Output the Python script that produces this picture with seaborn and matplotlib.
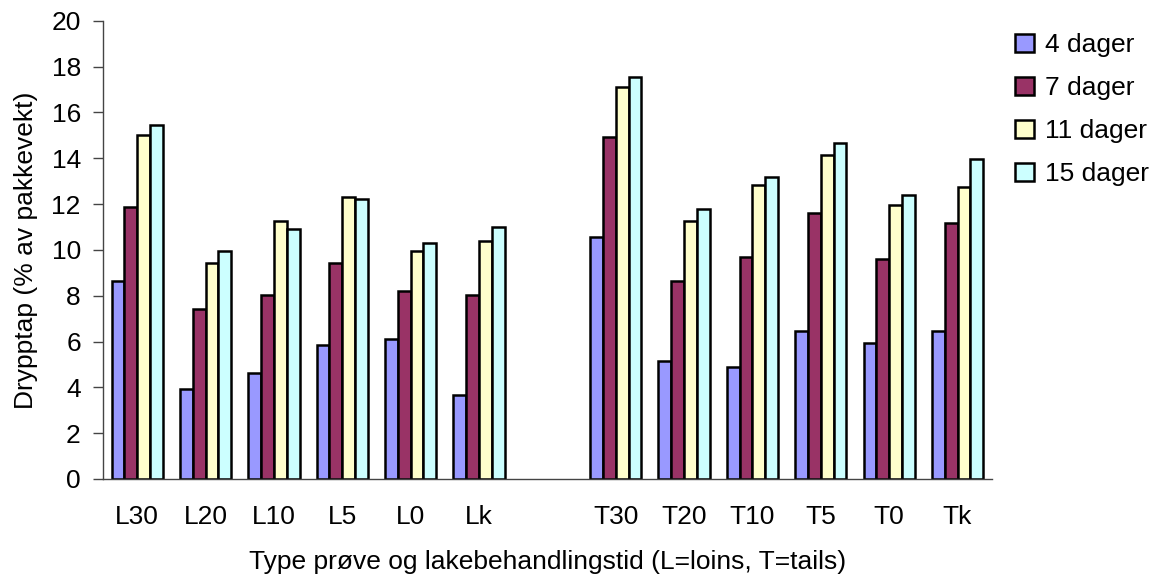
import numpy as np
import pandas as pd
import matplotlib
matplotlib.use("Agg")
import matplotlib.pyplot as plt
import seaborn as sns

# data
categories = ["L30", "L20", "L10", "L5", "L0", "Lk", " ", "T30", "T20", "T10", "T5", "T0", "Tk"]
series = ["4 dager", "7 dager", "11 dager", "15 dager"]
dag4 = [8.63, 3.93, 4.63, 5.85, 6.11, 3.67, np.nan, 10.57, 5.15, 4.89, 6.46, 5.94, 6.46]
dag7 = [11.86, 7.42, 8.03, 9.42, 8.21, 8.03, np.nan, 14.93, 8.63, 9.69, 11.62, 9.61, 11.18]
dag11 = [15.02, 9.42, 11.27, 12.30, 9.96, 10.39, np.nan, 17.10, 11.27, 12.84, 14.13, 11.97, 12.75]
dag15 = [15.46, 9.96, 10.92, 12.23, 10.29, 10.99, np.nan, 17.54, 11.79, 13.19, 14.66, 12.40, 13.97]
colors = ["#9999FF", "#993366", "#FFFFCC", "#CCFFFF"]

df = pd.DataFrame({"Type": categories, series[0]: dag4, series[1]: dag7,
                   series[2]: dag11, series[3]: dag15})
long = df.melt(id_vars="Type", var_name="Tid", value_name="Drypptap").dropna()

sns.set_style("white")
plt.rcParams["font.family"] = ["Liberation Sans", "DejaVu Sans"]
plt.rcParams["text.color"] = "black"
plt.rcParams["axes.labelcolor"] = "black"
plt.rcParams["xtick.color"] = "black"
plt.rcParams["ytick.color"] = "black"

fig = plt.figure(figsize=(11.64, 5.82), dpi=100)
ax = fig.add_axes([0.0885, 0.177, 0.7635, 0.7874])

sns.barplot(data=long, x="Type", y="Drypptap", hue="Tid", order=categories,
            hue_order=series, palette=colors, width=0.75, gap=0,
            edgecolor="black", linewidth=1.8, saturation=1, ax=ax)

ax.set_xlim(-0.5, len(categories) - 0.5)
ax.set_ylim(0, 20)
ax.set_yticks(range(0, 21, 2))
ax.set_xticks(range(len(categories)))
ax.set_xticklabels(categories)
ax.set_xticks(np.arange(-0.5, len(categories), 1), minor=True)
ax.tick_params(axis="x", which="major", length=0, pad=19, labelsize=19)
ax.tick_params(axis="x", which="minor", length=7, width=1, color="#444444")
ax.tick_params(axis="y", length=7, width=1, color="#444444", labelsize=19, left=True, pad=9)

for s in ["top", "right"]:
    ax.spines[s].set_visible(False)
for s in ["left", "bottom"]:
    ax.spines[s].set_color("#444444")
    ax.spines[s].set_linewidth(1)

ax.set_xlabel("Type prøve og lakebehandlingstid (L=loins, T=tails)", fontsize=19, labelpad=15)
ax.set_ylabel("Drypptap (% av pakkevekt)", fontsize=19, labelpad=10)

ax.legend(loc="upper left", bbox_to_anchor=(1.0, 1.025), frameon=False, fontsize=19,
          handlelength=0.7, handleheight=0.7, handletextpad=0.4, labelspacing=0.72)

fig.savefig("out.png", dpi=100)
